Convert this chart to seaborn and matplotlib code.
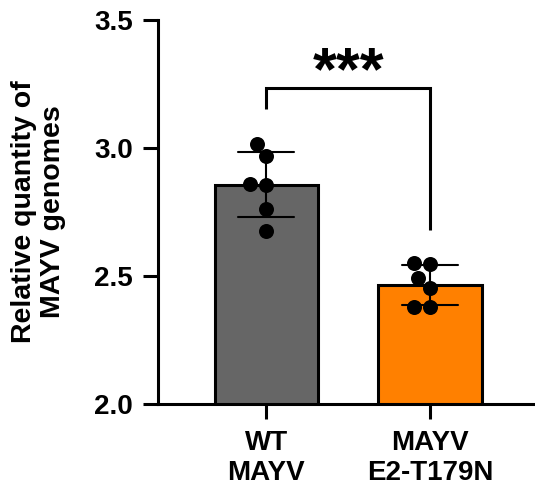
import matplotlib
matplotlib.use("Agg")
import matplotlib.pyplot as plt
import seaborn as sns
import pandas as pd

# values
groups = ["WT\nMAYV", "MAYV\nE2-T179N"]
wt_values = [3.017, 2.969, 2.860, 2.855, 2.760, 2.676]
mut_values = [2.550, 2.547, 2.491, 2.452, 2.378, 2.378]
bar_colors = ["#666666", "#FF8000"]
y_ticks = [2.0, 2.5, 3.0, 3.5]
y_label = "Relative quantity of\nMAYV genomes"
sig_label = "***"
bracket_top = 3.233
bracket_left_end = 3.152
bracket_right_end = 2.68

df = pd.DataFrame({
    "group": [groups[0]] * len(wt_values) + [groups[1]] * len(mut_values),
    "value": wt_values + mut_values,
})

sns.set_theme(style="ticks")
plt.rcParams["font.family"] = ["Liberation Sans", "DejaVu Sans"]
plt.rcParams["font.weight"] = "bold"
plt.rcParams["text.color"] = "black"
plt.rcParams["axes.labelcolor"] = "black"
plt.rcParams["xtick.color"] = "black"
plt.rcParams["ytick.color"] = "black"

fig = plt.figure(figsize=(5.35, 4.88), dpi=100)
ax = fig.add_axes([0.2953, 0.1721, 0.7047, 0.787])

sns.barplot(data=df, x="group", y="value", hue="group", order=groups,
            palette=bar_colors, saturation=1, errorbar="sd", capsize=0.34,
            width=0.63, edgecolor="black", linewidth=2.2,
            err_kws={"color": "black", "linewidth": 1.5},
            legend=False, ax=ax)
sns.swarmplot(data=df, x="group", y="value", order=groups,
              color="black", size=10.8, ax=ax)

# significance bracket
ax.plot([0, 0, 1, 1],
        [bracket_left_end, bracket_top, bracket_top, bracket_right_end],
        color="black", lw=2.2, solid_capstyle="butt", solid_joinstyle="miter")
ax.text(0.5, 3.23, sig_label, ha="center", va="baseline",
        fontsize=44, fontweight="bold")

ax.set_xlim(-0.66, 1.64)
ax.set_ylim(2.0, 3.5)
ax.set_yticks(y_ticks)
ax.set_yticklabels([f"{t:.1f}" for t in y_ticks])
ax.set_xlabel("")
ax.set_ylabel(y_label, fontsize=20.5, fontweight="bold", linespacing=1.12)
ax.yaxis.set_label_coords(-0.245, 0.5)

sns.despine(ax=ax)
for side in ["left", "bottom"]:
    ax.spines[side].set_linewidth(2.2)
    ax.spines[side].set_color("black")
ax.tick_params(axis="both", length=11, width=2.2, color="black")
ax.tick_params(axis="y", labelsize=20, pad=7)
ax.tick_params(axis="x", labelsize=20, pad=8)
for lab in ax.get_xticklabels():
    lab.set_fontweight("bold")
    lab.set_linespacing(1.2)
for lab in ax.get_yticklabels():
    lab.set_fontweight("bold")

fig.savefig("out.png", dpi=100)
